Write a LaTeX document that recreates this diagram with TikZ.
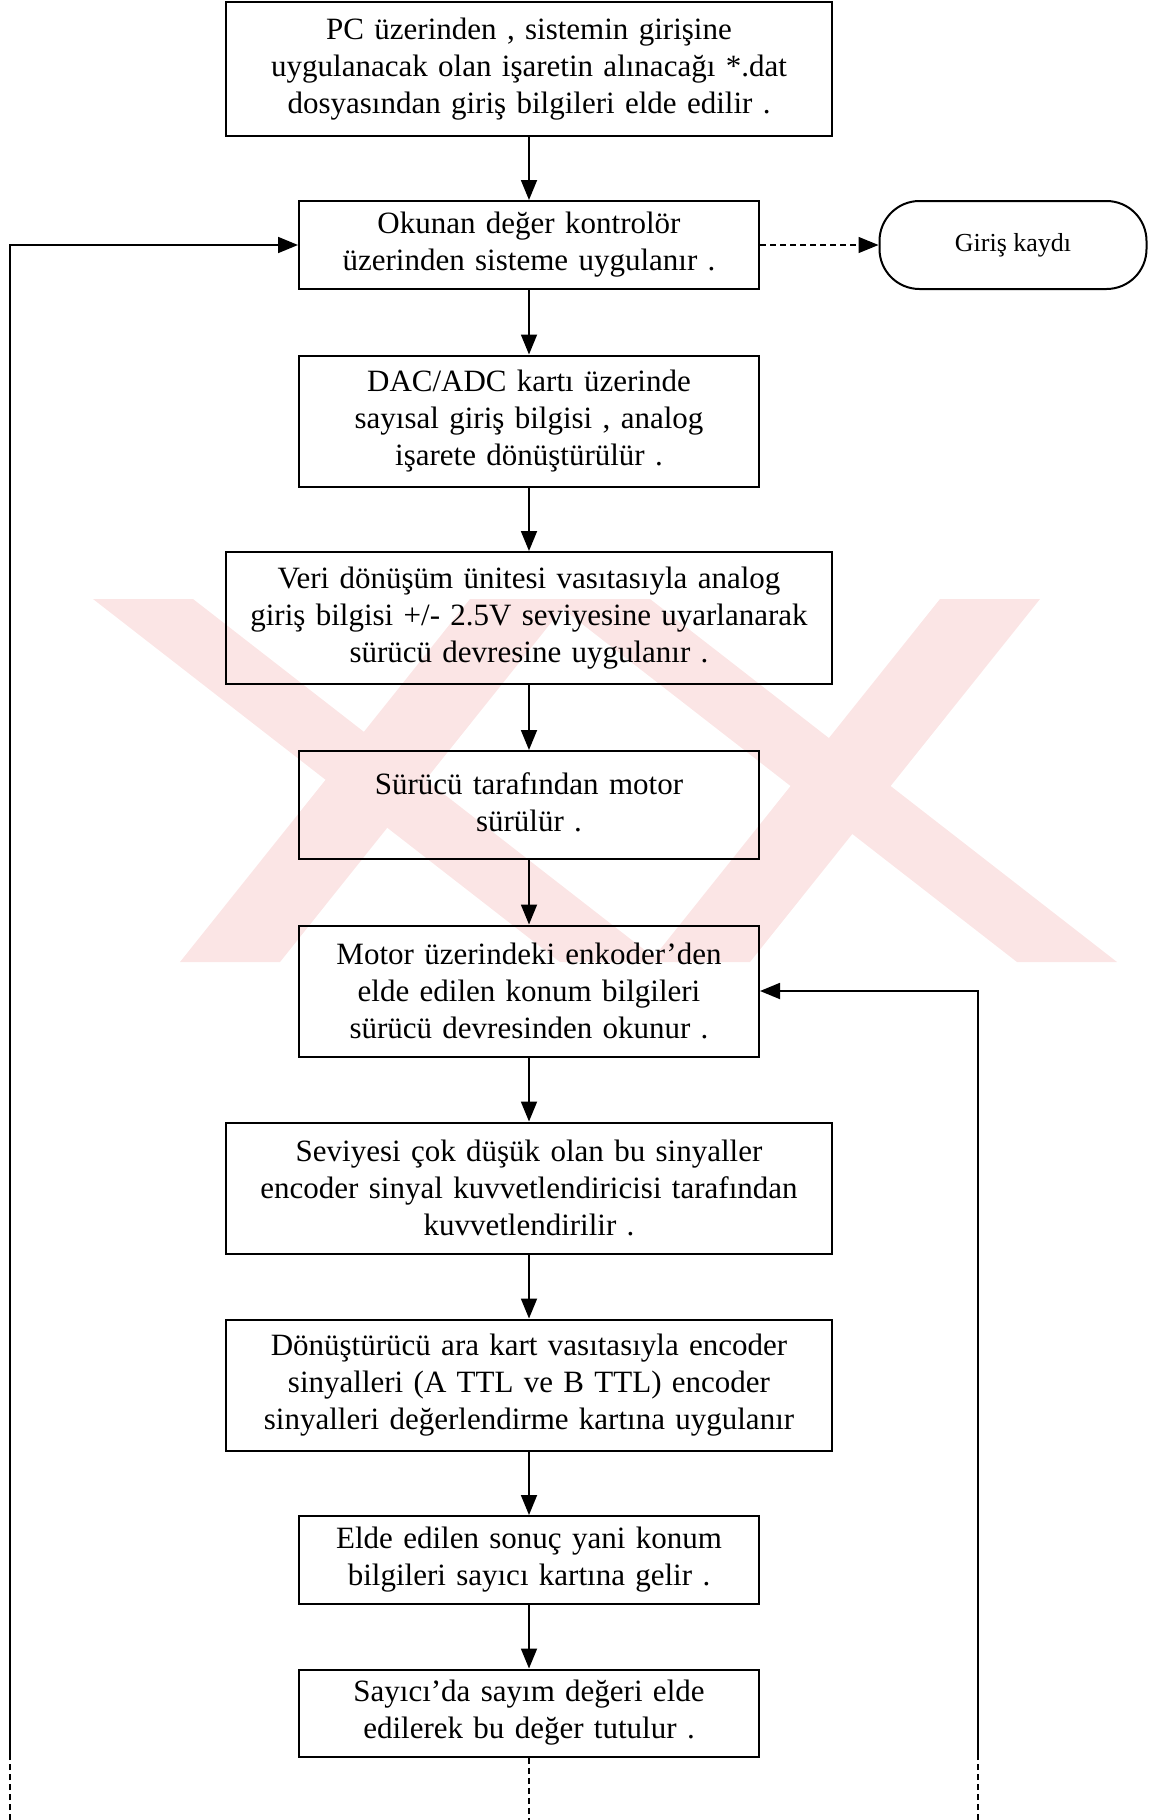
\documentclass[tikz,border=0pt]{standalone}
\usepackage{fontspec}
\setmainfont{Liberation Serif}
\usetikzlibrary{arrows.meta}
\definecolor{filigran}{RGB}{251,229,229}
\tikzset{
	kutu/.style={draw, line width=2pt, align=center, inner sep=0pt, font=\fontsize{31}{37}\selectfont},
	genis/.style={kutu, minimum width=606pt, text width=600pt},
	dar/.style={kutu, minimum width=460pt, text width=455pt},
	kayit/.style={draw, line width=2pt, rounded corners=40pt, minimum width=267pt, minimum height=88pt, font=\fontsize{26}{30}\selectfont},
	ok/.style={line width=1.8pt, -{Triangle[length=20pt,width=16pt]}},
	kesik/.style={line width=1.4pt, dash pattern=on 6pt off 4pt},
}
\begin{document}
\begin{tikzpicture}[x=1pt, y=-1pt]
			%%%%% START %%%%%
			\useasboundingbox (0,0) rectangle (1149,1820);
			
			% filigran
			\fill[filigran] (93,599) -- (193,599) -- (660,962) -- (560,962) -- cycle;
			\fill[filigran] (470,599) -- (570,599) -- (280,962) -- (180,962) -- cycle;
			\fill[filigran] (550,599) -- (650,599) -- (1117,962) -- (1017,962) -- cycle;
			\fill[filigran] (940,599) -- (1040,599) -- (750,962) -- (650,962) -- cycle;
			
			\node[genis, minimum height=134pt] (pc) at (529,69) {PC üzerinden , sistemin girişine\\ uygulanacak olan işaretin alınacağı *.dat\\ dosyasından giriş bilgileri elde edilir .};
			\node[dar, minimum height=88pt] (okunan) at (529,245) {Okunan değer kontrolör\\ üzerinden sisteme uygulanır .};
			\node[kayit] (giris) at (1013,245) {Giriş kaydı};
			\node[dar, minimum height=131pt] (dac) at (529,421) {DAC/ADC kartı üzerinde\\ sayısal giriş bilgisi , analog\\ işarete dönüştürülür .};
			\node[genis, minimum height=132pt] (veri) at (529,618) {Veri dönüşüm ünitesi vasıtasıyla analog\\ giriş bilgisi +/- 2.5V seviyesine uyarlanarak\\ sürücü devresine uygulanır .};
			\node[dar, minimum height=108pt] (surucu) at (529,805) {Sürücü tarafından motor\\ sürülür .\vphantom{p}};
			\node[dar, minimum height=131pt] (motor) at (529,991) {Motor üzerindeki enkoder’den\\ elde edilen konum bilgileri\\ sürücü devresinden okunur .};
			\node[genis, minimum height=131pt] (seviye) at (529,1188) {Seviyesi çok düşük olan bu sinyaller\\ encoder sinyal kuvvetlendiricisi tarafından\\ kuvvetlendirilir .};
			\node[genis, minimum height=131pt] (donus) at (529,1385) {Dönüştürücü ara kart vasıtasıyla encoder\\ sinyalleri (A TTL ve B TTL) encoder\\ sinyalleri değerlendirme kartına uygulanır};
			\node[dar, minimum height=88pt] (sonuc) at (529,1560) {Elde edilen sonuç yani konum\\ bilgileri sayıcı kartına gelir .};
			\node[dar, minimum height=87pt] (sayici) at (529,1713) {Sayıcı’da sayım değeri elde\\ edilerek bu değer tutulur .};
			
			% akis oklari
			\draw[ok] (pc) -- (okunan);
			\draw[ok] (okunan) -- (dac);
			\draw[ok] (dac) -- (veri);
			\draw[ok] (veri) -- (surucu);
			\draw[ok] (surucu) -- (motor);
			\draw[ok] (motor) -- (seviye);
			\draw[ok] (seviye) -- (donus);
			\draw[ok] (donus) -- (sonuc);
			\draw[ok] (sonuc) -- (sayici);
			\draw[ok, kesik] (okunan) -- (giris);
			
			% geri donusler
			\coordinate (solust) at (10,1757);
			\coordinate (solalt) at (10,1820);
			\coordinate (sagust) at (978,1757);
			\coordinate (sagalt) at (978,1820);
			\coordinate (ortaalt) at (529,1820);
			\draw[ok] (solust) |- (okunan.west);
			\draw[ok] (sagust) |- (motor.east);
			\draw[kesik] (solalt) -- (solust);
			\draw[kesik] (sagalt) -- (sagust);
			\draw[kesik] (sayici) -- (ortaalt);
			
			%%%%% END %%%%%
\end{tikzpicture}
\end{document}
